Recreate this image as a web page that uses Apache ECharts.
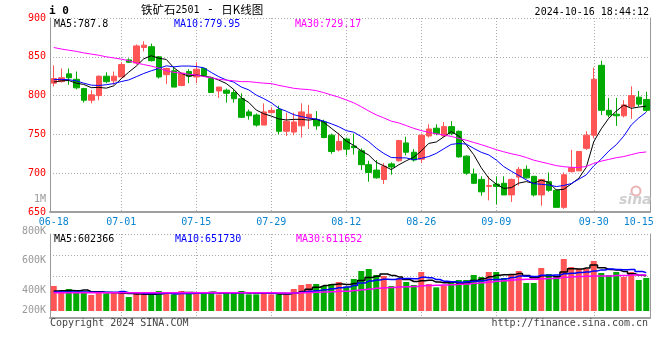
<!DOCTYPE html>
<html><head><meta charset="utf-8">
<script src="https://cdn.jsdelivr.net/npm/echarts@6/dist/echarts.min.js"></script>
<style>html,body{margin:0;padding:0;background:#fff}#c{width:660px;height:360px}</style>
</head><body><div id="c"></div>
<script>
// ---- data ----
const dates = ['06-18','06-19','06-20','06-21','06-24','06-25','06-26','06-27','06-28',
'07-01','07-02','07-03','07-04','07-05','07-08','07-09','07-10','07-11','07-12',
'07-15','07-16','07-17','07-18','07-19','07-22','07-23','07-24','07-25','07-26',
'07-29','07-30','07-31','08-01','08-02','08-05','08-06','08-07','08-08','08-09',
'08-12','08-13','08-14','08-15','08-16','08-19','08-20','08-21','08-22','08-23',
'08-26','08-27','08-28','08-29','08-30','09-02','09-03','09-04','09-05','09-06',
'09-09','09-10','09-11','09-12','09-13','09-18','09-19','09-20','09-23','09-24','09-25','09-26','09-27',
'09-30','10-08','10-09','10-10','10-11','10-14','10-15','10-16'];
const opens = [816,818,828,821,809,794,800,825,819,824, 846,842,862,863,850,827,832,813,831,824,
835,822,806,807,804,796,779,775,762,778, 782,754,753,761,771,769,766,749,730,744,
735,729,711,704,692,712,716,739,727,718, 748,758,748,760,754,722,699,692,683,686,
687,672,695,705,696,672,689,678,656,702, 703,732,749,839,781,776,774,786,798,795];
const closes = [822,823,823,810,794,801,825,818,825,840, 843,864,865,845,824,835,811,829,825,834,
826,804,811,803,796,772,774,762,779,781, 754,767,766,779,776,761,746,728,741,731,
733,711,701,694,709,708,742,727,717,749, 757,751,760,751,721,700,687,676,684,683,
672,692,705,694,672,692,678,656,698,707, 728,749,821,781,775,774,788,800,789,781];
const lows = [812,817,814,808,791,790,794,816,814,824, 842,840,857,844,822,815,811,812,816,816,
824,804,797,791,791,771,769,760,762,777, 750,748,749,746,757,756,745,725,728,723,
724,704,689,693,686,698,715,723,715,713, 746,749,747,749,720,698,686,671,665,660,
672,663,684,693,670,658,676,656,654,701, 703,730,745,775,772,761,772,770,786,779];
const highs = [839,835,835,831,810,807,826,830,831,843, 848,866,870,867,851,836,837,829,834,843,
836,824,811,809,808,803,782,777,790,785, 787,778,778,790,788,780,769,751,752,746,
751,732,716,717,713,714,743,747,731,751, 763,763,766,767,755,723,706,696,696,696,
696,693,708,710,696,692,701,679,701,730, 728,754,836,845,797,797,794,812,806,805];
const volumes = [425000,329000,374000,329000,329000,272000,340000,300000,300000,300000,
238000,312000,272000,300000,340000,300000,283000,340000,300000,323000,
300000,323000,283000,323000,300000,340000,283000,283000,312000,283000,
283000,283000,374000,442000,459000,459000,425000,459000,493000,414000,
544000,680000,714000,612000,595000,425000,550000,493000,442000,663000,
459000,402000,436000,493000,527000,527000,612000,578000,663000,663000,
561000,629000,680000,476000,476000,731000,629000,595000,884000,748000,
714000,714000,850000,646000,612000,663000,578000,663000,527000,561000];
// moving-average values before a full window is available
const ma5Head = [817.5,819,819.5,816];
const ma10Head = [820.5,821,820.5,819,816,813.5,813,814,815.5];
const ma30Head = [862,860,858.5,857,855,853.5,852,850,848.5,847,845,842,840,838,835.5,832,830,829,827.5,826.5,824.5,823,821,820,819,818,818,817,816];
const vma5Head = [340000,345000,350000,345000];
const vma10Head = [325000,325000,325000,325000,322000,320000,318000,318000,318000];
const vma30Head = [312000,312000,311000,311000,311000,310000,310000,310000,310000,309000,309000,309000,309000,309000,309000,309000,309000,309000,309000,309000,310000,310000,310000,310000,310000,311000,311000,311000,311000];
const labelDates = ['06-18','07-01','07-15','07-29','08-12','08-26','09-09','09-30','10-15'];
const gridDates = ['07-01','07-15','07-29','08-12','08-26','09-09','09-30'];
const priceMin = 650, priceMax = 900, priceStep = 50;
const volTickLabels = ['800K','600K','400K','200K'];
const priceLegend = ['MA5:787.8','MA10:779.95','MA30:729.17'];
const volLegend = ['MA5:602366','MA10:651730','MA30:611652'];
const titleParts = ['铁矿石','2501',' - ','日K线图'];
const codeText = 'i 0';
const timeText = '2024-10-16 18:44:12';
const extraVolLabel = '1M';
const copyrightText = 'Copyright 2024 SINA.COM';
const urlText = 'http://finance.sina.com.cn';

// ---- derived ----
function movingAvg(values, n, head) {
  return values.map((v, i) => {
    if (i < n - 1) return head[i];
    let s = 0; for (let k = i - n + 1; k <= i; k++) s += values[k];
    return +(s / n).toFixed(2);
  });
}
const UP = '#ff5555', DOWN = '#00aa00';
const MA_COLORS = ['#000000', '#0000ff', '#ff00ff'];
const MONO = 'DejaVu Sans Mono';
const kData = dates.map((d, i) => [opens[i], closes[i], lows[i], highs[i]]);
const volData = volumes.map((v, i) => ({ value: v, itemStyle: { color: closes[i] >= opens[i] ? UP : DOWN } }));
const maP = [movingAvg(closes, 5, ma5Head), movingAvg(closes, 10, ma10Head), movingAvg(closes, 30, ma30Head)];
const maV = [movingAvg(volumes, 5, vma5Head), movingAvg(volumes, 10, vma10Head), movingAvg(volumes, 30, vma30Head)];

const dotted = { type: [1, 2], color: '#aaaaaa', width: 1 };
const border = { color: '#999999', width: 1 };

function xAx(gi, showLabel) {
  return {
    type: 'category', gridIndex: gi, data: dates, boundaryGap: true,
    axisLine: { show: true, onZero: false, lineStyle: { color: '#a0a0a0', width: 2 } },
    axisTick: { show: false },
    axisLabel: { show: showLabel, interval: (i, v) => labelDates.includes(v), color: '#0a84d0', fontFamily: MONO, fontSize: 10, margin: 5 },
    splitLine: { show: true, alignWithLabel: true, interval: (i, v) => gridDates.includes(v), lineStyle: dotted }
  };
}
const volMin = -119000, volMax = 1309000;

const lineSeries = (data, xi, yi, color, step) => ({
  type: 'line', xAxisIndex: xi, yAxisIndex: yi, data, symbol: 'none', silent: true, step: step || false,
  lineStyle: { width: step ? 1.5 : 1, color }, itemStyle: { color }, z: 5
});

function txt(x, y, text, fill, font, align) {
  return { type: 'text', x, y, silent: true, z: 100,
    style: { text, fill, font, align: align || 'left', textAlign: align || 'left', verticalAlign: 'middle', textVerticalAlign: 'middle' } };
}
const legX = [54, 174, 295];
const graphics = [];
graphics.push(txt(49, 11, codeText, '#000', 'bold 11px ' + MONO));
graphics.push({ type: 'text', x: 141, y: 10, silent: true, z: 100,
  style: { text: '{a|' + titleParts[0] + '}{b|' + titleParts[1] + '}{c|' + titleParts[2] + '}{a|' + titleParts[3] + '}',
    verticalAlign: 'middle', textVerticalAlign: 'middle',
    rich: { a: { fontFamily: 'Noto Sans CJK SC', fontSize: 11.5, color: '#000' },
            b: { fontFamily: MONO, fontSize: 10, color: '#555' },
            c: { fontFamily: MONO, fontSize: 12, color: '#000' } } } });
graphics.push(txt(649, 12, timeText, '#000', '10px ' + MONO, 'right'));
priceLegend.forEach((t, k) => graphics.push(txt(legX[k], 24, t, MA_COLORS[k], '10px ' + MONO)));
volLegend.forEach((t, k) => graphics.push(txt(legX[k] + (k ? 1 : 0), 239, t, MA_COLORS[k], '10px ' + MONO)));
const volLabelY = [231, 260.5, 290.5, 310.5];
volTickLabels.forEach((t, k) => graphics.push(txt(46, volLabelY[k], t, '#999', '10px ' + MONO, 'right')));
graphics.push(txt(46, 199, extraVolLabel, '#999', '10px ' + MONO, 'right'));
graphics.push(txt(50, 323, copyrightText, '#444', '10px ' + MONO));
graphics.push(txt(648, 323, urlText, '#444', '10px ' + MONO, 'right'));
// sina watermark
graphics.push({ type: 'circle', shape: { cx: 636, cy: 191, r: 4.5 }, silent: true, z: 1,
  style: { fill: 'none', stroke: '#eab4b4', lineWidth: 2 } });
graphics.push(txt(619, 200, 'sina', '#cfcfcf', 'italic bold 14px DejaVu Sans'));

const option = {
  animation: false,
  backgroundColor: '#ffffff',
  grid: [
    { left: 50, top: 18, width: 600, height: 194, outerBoundsMode: 'none', containLabel: false },
    { left: 50, top: 234, width: 600, height: 84, outerBoundsMode: 'none', containLabel: false }
  ],
  xAxis: [xAx(0, true), xAx(1, false)],
  yAxis: [
    { type: 'value', gridIndex: 0, min: priceMin, max: priceMax, interval: priceStep,
      axisLine: { show: true, lineStyle: border }, axisTick: { show: false },
      axisLabel: { color: '#ff0000', fontFamily: MONO, fontSize: 10, margin: 4 },
      splitLine: { show: true, lineStyle: dotted } },
    { type: 'value', gridIndex: 0, position: 'right', min: priceMin, max: priceMax,
      axisLine: { show: true, lineStyle: border }, axisTick: { show: false }, axisLabel: { show: false }, splitLine: { show: false } },
    { type: 'value', gridIndex: 1, min: volMin, max: volMax,
      axisLine: { show: true, lineStyle: border }, axisTick: { show: false }, axisLabel: { show: false }, splitLine: { show: false } },
    { type: 'value', gridIndex: 1, position: 'right', min: volMin, max: volMax,
      axisLine: { show: true, lineStyle: border }, axisTick: { show: false }, axisLabel: { show: false }, splitLine: { show: false } },
    { type: 'category', gridIndex: 1, position: 'left', data: ['0', '1', '2', '3', '4'], boundaryGap: false,
      axisLine: { show: false }, axisTick: { show: false }, axisLabel: { show: false },
      splitLine: { show: true, interval: (i) => i >= 2, lineStyle: dotted } }
  ],
  series: [
    { type: 'candlestick', xAxisIndex: 0, yAxisIndex: 0, data: kData, barWidth: 6, z: 3,
      itemStyle: { color: UP, color0: DOWN, borderColor: UP, borderColor0: DOWN, borderWidth: 1 } },
    lineSeries(maP[0], 0, 0, MA_COLORS[0]),
    lineSeries(maP[1], 0, 0, MA_COLORS[1]),
    lineSeries(maP[2], 0, 0, MA_COLORS[2]),
    { type: 'bar', xAxisIndex: 1, yAxisIndex: 2, data: volData, barWidth: 6, z: 3 },
    lineSeries(maV[0], 1, 2, MA_COLORS[0], 'middle'),
    lineSeries(maV[1], 1, 2, MA_COLORS[1], 'middle'),
    lineSeries(maV[2], 1, 2, MA_COLORS[2], 'middle')
  ],
  graphic: { elements: graphics }
};
const chart = echarts.init(document.getElementById('c'), null, { renderer: 'canvas' });
chart.setOption(option);
</script></body></html>
